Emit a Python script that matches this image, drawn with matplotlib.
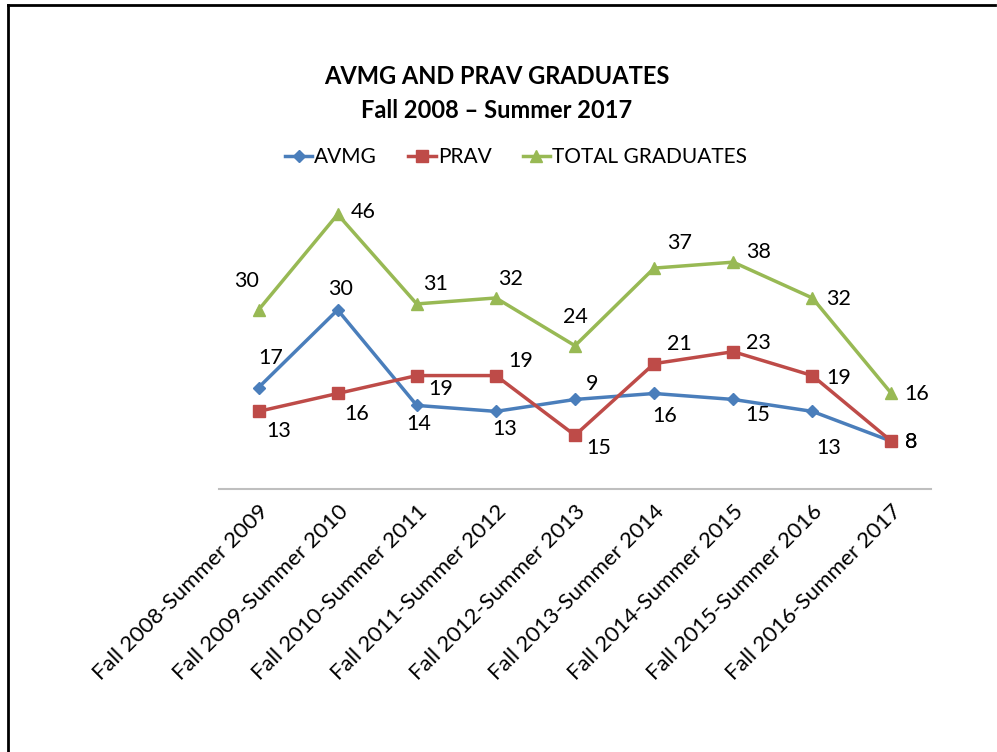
import matplotlib.pyplot as plt
from matplotlib.lines import Line2D

plt.rcParams['font.family'] = ['Lato', 'DejaVu Sans']

periods = ['Fall 2008-Summer 2009', 'Fall 2009-Summer 2010', 'Fall 2010-Summer 2011',
           'Fall 2011-Summer 2012', 'Fall 2012-Summer 2013', 'Fall 2013-Summer 2014',
           'Fall 2014-Summer 2015', 'Fall 2015-Summer 2016', 'Fall 2016-Summer 2017']
avmg = [17, 30, 14, 13, 15, 16, 15, 13, 8]
prav = [13, 16, 19, 19, 9, 21, 23, 19, 8]
total = [30, 46, 31, 32, 24, 37, 38, 32, 16]

# label offsets in pixels (dx, dy), copied from the reference layout
avmg_off = [(12, 30), (3, 21), (2, -19), (9, -18), (24, -49), (11, -23), (25, -16), (16, -37), (20, -1)]
prav_off = [(20, -20), (19, -21), (24, -13), (25, 15), (17, 51), (25, 20), (25, 9), (26, -2), (20, -1)]
total_off = [(-12, 29), (26, 2), (19, 20), (15, 19), (0, 29), (25, 25), (25, 10), (26, -1), (25, -1)]

blue = '#4A7EBB'
red = '#BE4B48'
green = '#98B954'

fig = plt.figure(figsize=(9.97, 7.52), dpi=100)
ax = fig.add_axes([219 / 997, (752 - 489) / 752, 712 / 997, 298.5 / 752])

x = range(len(periods))
ax.plot(x, avmg, color=blue, lw=2.5, marker='D', ms=6, label='AVMG')
ax.plot(x, prav, color=red, lw=2.5, marker='s', ms=8.5, label='PRAV')
ax.plot(x, total, color=green, lw=2.5, marker='^', ms=8.5, label='TOTAL GRADUATES')

for vals, offs in [(avmg, avmg_off), (prav, prav_off), (total, total_off)]:
    for i, (v, o) in enumerate(zip(vals, offs)):
        ax.annotate(str(v), (i, v), xytext=o, textcoords='offset pixels',
                    ha='center', va='center', fontsize=15.5, color='black')

ax.set_xlim(-0.5, len(periods) - 0.5)
ax.set_ylim(0, 50)
ax.set_yticks([])
ax.set_xticks(list(x))
ax.set_xticklabels(periods, rotation=45, ha='right', rotation_mode='anchor', fontsize=16)
ax.tick_params(axis='x', length=0, pad=9)
for s in ['top', 'right', 'left']:
    ax.spines[s].set_visible(False)
ax.spines['bottom'].set_color('#BFBFBF')
ax.spines['bottom'].set_linewidth(1.5)

fig.text(497 / 997, 1 - 76 / 752, 'AVMG AND PRAV GRADUATES', ha='center', va='center',
         fontsize=17, fontweight='bold')
fig.text(497 / 997, 1 - 110 / 752, 'Fall 2008 \u2013 Summer 2017', ha='center', va='center',
         fontsize=17, fontweight='bold')

fig.legend(loc='center', bbox_to_anchor=(516 / 997, 1 - 157 / 752), ncol=3, frameon=False,
           fontsize=15, handlelength=1.3, handletextpad=0.1, columnspacing=1.5)

# frame lines (top and left only visible in the reference)
fig.add_artist(Line2D([8 / 997, 995 / 997], [1 - 5 / 752, 1 - 5 / 752], color='black', lw=2))
fig.add_artist(Line2D([8 / 997, 8 / 997], [0, 1 - 5 / 752], color='black', lw=2))

fig.savefig('out.png', dpi=100)
